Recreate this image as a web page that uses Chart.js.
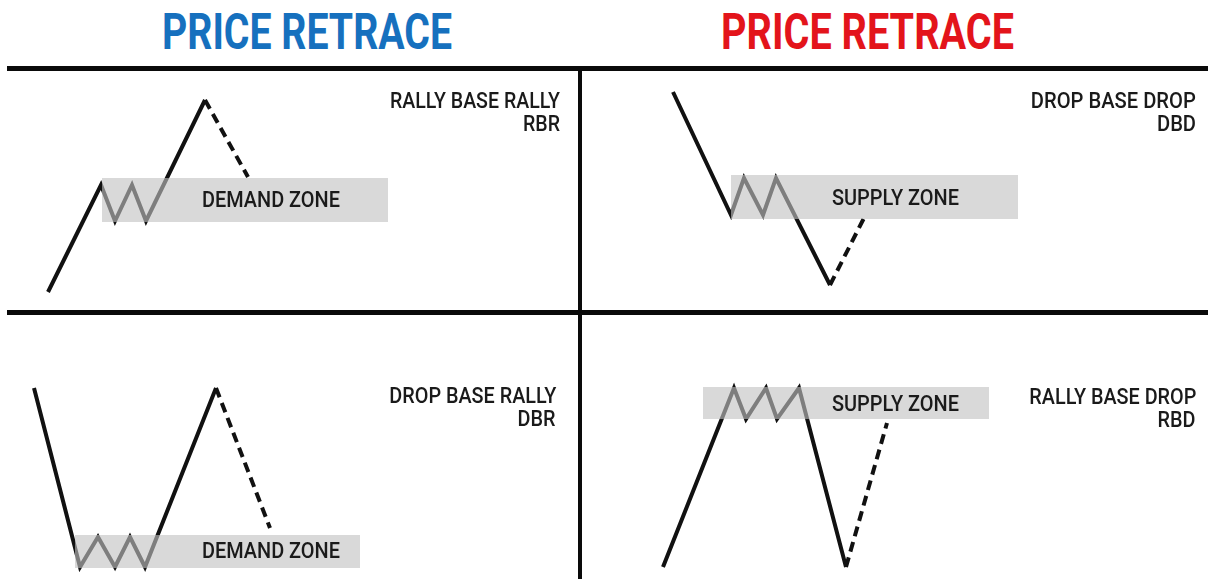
<!DOCTYPE html>
<html>
<head>
<meta charset="utf-8">
<script src="https://cdn.jsdelivr.net/npm/chart.js@4.4.1/dist/chart.umd.min.js"></script>
<style>
  html, body { margin: 0; padding: 0; background: #fff; }
  body { position: relative; width: 1209px; height: 579px; overflow: hidden; }
  canvas { position: absolute; }
  .rule { position: absolute; background: #0a0a0a; z-index: 2; }
  .txt { position: absolute; white-space: nowrap; z-index: 3; font-family: Roboto, "Liberation Sans", sans-serif; }
</style>
</head>
<body>
<div class="rule" style="left:7px;top:66px;width:1201px;height:5px"></div>
<div class="rule" style="left:7px;top:310px;width:1201px;height:5px"></div>
<div class="rule" style="left:578px;top:66px;width:4px;height:513px"></div>
<canvas id="rbr"></canvas>
<canvas id="dbd"></canvas>
<canvas id="dbr"></canvas>
<canvas id="rbd"></canvas>
<script>
// Rally Base Rally (top left) - time / price of each swing
const rbrTime = [48, 101, 115, 132, 146, 205];
const rbrPrice = [18, 125, 89, 125, 89, 210];
const rbrRetraceTime = [205, 248];
const rbrRetracePrice = [210, 133];
const rbrZoneTime = [102, 388];
const rbrZone = [88, 132];

// Drop Base Drop (top right)
const dbdTime = [91, 149, 162, 181, 194, 248];
const dbdPrice = [218, 95, 132, 95, 132, 25];
const dbdRetraceTime = [248, 282];
const dbdRetracePrice = [25, 92];
const dbdZoneTime = [149, 436];
const dbdZone = [91, 135];

// Drop Base Rally (bottom left)
const dbrTime = [34, 80, 98, 115, 130, 145, 216];
const dbrPrice = [191, 12, 42, 12, 42, 12, 191];
const dbrRetraceTime = [216, 270];
const dbrRetracePrice = [191, 51];
const dbrZoneTime = [75, 360];
const dbrZone = [11, 44];

// Rally Base Drop (bottom right)
const rbdTime = [81, 152, 164, 184, 195, 217, 264];
const rbdPrice = [12, 191, 160, 191, 160, 191, 12];
const rbdRetraceTime = [264, 305];
const rbdRetracePrice = [12, 156];
const rbdZoneTime = [121, 407];
const rbdZone = [160, 192];

const FONT = 'Roboto, "Liberation Sans", sans-serif';
const INK = '#111111';
const ZONE_FILL = 'rgba(194,194,194,0.62)';

const panels = [
  { id: 'rbr', left: 0, top: 71, w: 577, h: 239, time: rbrTime, price: rbrPrice, rt: rbrRetraceTime, rp: rbrRetracePrice, zt: rbrZoneTime, z: rbrZone },
  { id: 'dbd', left: 582, top: 71, w: 627, h: 239, time: dbdTime, price: dbdPrice, rt: dbdRetraceTime, rp: dbdRetracePrice, zt: dbdZoneTime, z: dbdZone },
  { id: 'dbr', left: 0, top: 315, w: 577, h: 264, time: dbrTime, price: dbrPrice, rt: dbrRetraceTime, rp: dbrRetracePrice, zt: dbrZoneTime, z: dbrZone },
  { id: 'rbd', left: 582, top: 315, w: 627, h: 264, time: rbdTime, price: rbdPrice, rt: rbdRetraceTime, rp: rbdRetracePrice, zt: rbdZoneTime, z: rbdZone }
];

function pts(xs, ys) {
  return xs.map((x, i) => ({ x: x, y: ys[i] }));
}

panels.forEach(p => {
  const cv = document.getElementById(p.id);
  cv.width = p.w;
  cv.height = p.h;
  cv.style.left = p.left + 'px';
  cv.style.top = p.top + 'px';
  new Chart(cv, {
    type: 'line',
    data: {
      datasets: [
        { // zone overlay, drawn on top of the price path
          data: pts(p.zt, [p.z[1], p.z[1]]),
          fill: { value: p.z[0] },
          backgroundColor: ZONE_FILL,
          borderColor: 'rgba(0,0,0,0)',
          borderWidth: 0,
          pointRadius: 0,
          order: 0
        },
        {
          data: pts(p.time, p.price),
          borderColor: INK,
          borderWidth: 4,
          pointRadius: 0,
          fill: false,
          tension: 0,
          order: 1
        },
        {
          data: pts(p.rt, p.rp),
          borderColor: INK,
          borderWidth: 4,
          borderDash: [10, 6],
          pointRadius: 0,
          fill: false,
          order: 1
        }
      ]
    },
    options: {
      responsive: false,
      animation: false,
      devicePixelRatio: 1,
      events: [],
      layout: { padding: 0 },
      scales: {
        x: { type: 'linear', display: false, min: 0, max: p.w },
        y: { type: 'linear', display: false, min: 0, max: p.h }
      },
      plugins: { legend: { display: false }, tooltip: { enabled: false } }
    }
  });
});

// text blocks: first line is fitted to width, following lines reuse its squeeze
const texts = [
  { lines: ['PRICE RETRACE'], x: 162, align: 'left', top: 13, cap: 36, width: 290, color: '#1670be', weight: 700 },
  { lines: ['PRICE RETRACE'], x: 721, align: 'left', top: 13, cap: 36, width: 293, color: '#e3141b', weight: 700 },
  { lines: ['RALLY BASE RALLY', 'RBR'], x: 560, align: 'right', top: 92, gap: 23, cap: 16, width: 170, color: '#1a1a1a', weight: 500 },
  { lines: ['DROP BASE DROP', 'DBD'], x: 1196, align: 'right', top: 92, gap: 23, cap: 16, width: 165, color: '#1a1a1a', weight: 500 },
  { lines: ['DROP BASE RALLY', 'DBR'], x: 556, align: 'right', top: 387, gap: 23, cap: 16, width: 167, color: '#1a1a1a', weight: 500 },
  { lines: ['RALLY BASE DROP', 'RBD'], x: 1196, align: 'right', top: 388, gap: 23, cap: 16, width: 167, color: '#1a1a1a', weight: 500 },
  { lines: ['DEMAND ZONE'], x: 202, align: 'left', top: 192, cap: 16.5, width: 138, color: '#1a1a1a', weight: 500 },
  { lines: ['SUPPLY ZONE'], x: 832, align: 'left', top: 190, cap: 16.5, width: 127, color: '#1a1a1a', weight: 500 },
  { lines: ['DEMAND ZONE'], x: 202, align: 'left', top: 543, cap: 16.5, width: 138, color: '#1a1a1a', weight: 500 },
  { lines: ['SUPPLY ZONE'], x: 832, align: 'left', top: 396, cap: 16.5, width: 127, color: '#1a1a1a', weight: 500 }
];

const mctx = document.createElement('canvas').getContext('2d');

texts.forEach(t => {
  mctx.font = t.weight + ' 100px ' + FONT;
  const capH = mctx.measureText('H').actualBoundingBoxAscent / 100;
  const first = mctx.measureText(t.lines[0]);
  const asc = first.fontBoundingBoxAscent / 100;
  const desc = first.fontBoundingBoxDescent / 100;
  const size = t.cap / capH;
  const sx = t.width / (first.width / 100 * size);
  t.lines.forEach((line, i) => {
    const el = document.createElement('div');
    el.className = 'txt';
    el.textContent = line;
    el.style.fontSize = size + 'px';
    el.style.fontWeight = t.weight;
    el.style.color = t.color;
    el.style.lineHeight = ((asc + desc) * size) + 'px';
    el.style.top = (t.top + i * (t.gap || 0) - (asc - capH) * size) + 'px';
    el.style.transform = 'scaleX(' + sx + ')';
    if (t.align === 'right') {
      el.style.right = (1209 - t.x) + 'px';
      el.style.transformOrigin = 'right top';
    } else {
      el.style.left = t.x + 'px';
      el.style.transformOrigin = 'left top';
    }
    document.body.appendChild(el);
  });
});
</script>
</body>
</html>
